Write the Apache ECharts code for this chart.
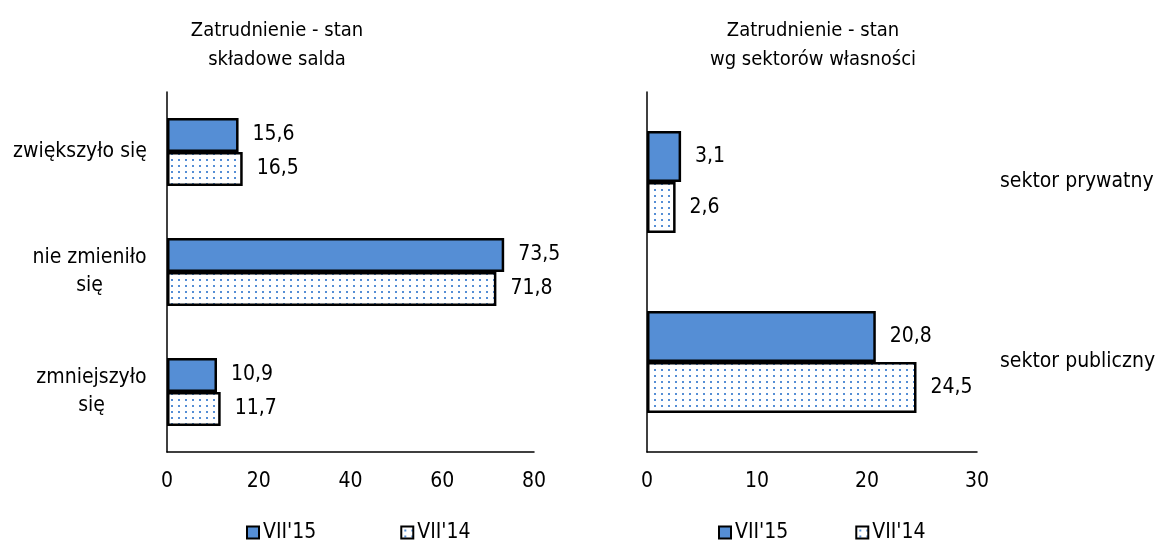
<!DOCTYPE html>
<html>
<head>
<meta charset="utf-8">
<script src="https://cdn.jsdelivr.net/npm/echarts@6/dist/echarts.min.js"></script>
<style>
  html, body { margin: 0; padding: 0; background: #fff; }
  #main { width: 1160px; height: 540px; }
</style>
</head>
<body>
<div id="main"></div>
<script>
// dane - lewy wykres (skladowe salda)
const saldoCats = ['zwiększyło się', 'nie zmieniło\nsię', 'zmniejszyło\nsię'];
const saldo15 = [15.6, 73.5, 10.9];
const saldo14 = [16.5, 71.8, 11.7];
const saldoTicks = { min: 0, max: 80, interval: 20 };

// dane - prawy wykres (sektory)
const sektorCats = ['sektor prywatny', 'sektor publiczny'];
const sektor15 = [3.1, 20.8];
const sektor14 = [2.6, 24.5];
const sektorTicks = { min: 0, max: 30, interval: 10 };

const seriesNames = ["VII'15", "VII'14"];

const FONT = '"DejaVu Sans Condensed", "DejaVu Sans", sans-serif';
const BLUE = '#558ED5';
const CAT_SIZE = 21;

// wzor w kropki dla VII'14
function dotPattern() {
  const c = document.createElement('canvas');
  c.width = 7; c.height = 6;
  const ctx = c.getContext('2d');
  ctx.fillStyle = '#fff';
  ctx.fillRect(0, 0, 7, 6);
  ctx.fillStyle = BLUE;
  ctx.fillRect(3, 3, 2, 2);
  return { image: c, repeat: 'repeat' };
}
const dots = dotPattern();

const fmt = p => String(p.value).replace('.', ',');

// etykiety kategorii: blok wyrownany do prawej, linie wysrodkowane
const measure = document.createElement('canvas').getContext('2d');
measure.font = CAT_SIZE + 'px ' + FONT;
const blockWidth = v => Math.ceil(Math.max(...v.split('\n').map(l => measure.measureText(l).width)));
function catLabel(v) {
  const key = 'c' + blockWidth(v);
  return v.split('\n').map(l => '{' + key + '|' + l + '}').join('\n');
}
const catRich = {};
saldoCats.forEach(v => {
  const w = blockWidth(v);
  catRich['c' + w] = { width: w, align: 'center', fontSize: CAT_SIZE, fontFamily: FONT, color: '#000', lineHeight: 28 };
});

function barSeries(name, data, xi, yi, width, fill) {
  return {
    name: name,
    type: 'bar',
    xAxisIndex: xi,
    yAxisIndex: yi,
    data: data,
    barWidth: width,
    barGap: '0%',
    itemStyle: { color: fill, borderColor: '#000', borderWidth: 2.5 },
    label: {
      show: true, position: 'right', distance: 14,
      formatter: fmt, color: '#000', fontSize: 21, fontFamily: FONT
    },
    emphasis: { disabled: true },
    animation: false
  };
}

const valAxis = (gi, t) => ({
  type: 'value', gridIndex: gi, min: t.min, max: t.max, interval: t.interval,
  splitLine: { show: false },
  axisLine: { show: true, lineStyle: { color: '#000', width: 1.5 } },
  axisTick: { show: false },
  axisLabel: { color: '#000', fontSize: 21, fontFamily: FONT, margin: 19 }
});

const legendText = { fontSize: 21, color: '#000', fontFamily: FONT, padding: [0, 0, 0, -1] };
const titleText = { fontSize: 20, fontWeight: 'normal', color: '#000', fontFamily: FONT, lineHeight: 29 };

const chart = echarts.init(document.getElementById('main'));
chart.setOption({
  backgroundColor: '#fff',
  animation: false,
  title: [
    { text: 'Zatrudnienie - stan\nskładowe salda', left: 272, top: 11, textAlign: 'center', textStyle: titleText },
    { text: 'Zatrudnienie - stan\nwg sektorów własności', left: 808, top: 11, textAlign: 'center', textStyle: titleText }
  ],
  legend: [
    { data: seriesNames, left: 241, top: 517, itemGap: 84, itemWidth: 12, itemHeight: 12,
      icon: 'rect', textStyle: legendText, selectedMode: false },
    { data: seriesNames, left: 713, top: 517, itemGap: 67, itemWidth: 12, itemHeight: 12,
      icon: 'rect', textStyle: legendText, selectedMode: false }
  ],
  grid: [
    { left: 167, right: 626, top: 92, bottom: 88 },
    { left: 647, right: 183, top: 92, bottom: 88 }
  ],
  xAxis: [valAxis(0, saldoTicks), valAxis(1, sektorTicks)],
  yAxis: [
    { type: 'category', gridIndex: 0, data: saldoCats, inverse: true,
      axisLine: { show: true, lineStyle: { color: '#000', width: 1.5 } },
      axisTick: { show: false },
      axisLabel: { align: 'right', margin: 20, formatter: catLabel, rich: catRich } },
    { type: 'category', gridIndex: 1, data: sektorCats, inverse: true,
      axisLine: { show: true, lineStyle: { color: '#000', width: 1.5 } },
      axisTick: { show: false },
      axisLabel: { show: false } },
    { type: 'category', gridIndex: 1, data: sektorCats, inverse: true, position: 'right',
      axisLine: { show: false }, axisTick: { show: false },
      axisLabel: { color: '#000', fontSize: CAT_SIZE, fontFamily: FONT, align: 'left', margin: 23 } }
  ],
  series: [
    barSeries(seriesNames[0], saldo15, 0, 0, 34, BLUE),
    barSeries(seriesNames[1], saldo14, 0, 0, 34, dots),
    barSeries(seriesNames[0], sektor15, 1, 1, 51, BLUE),
    barSeries(seriesNames[1], sektor14, 1, 1, 51, dots)
  ]
});
</script>
</body>
</html>
